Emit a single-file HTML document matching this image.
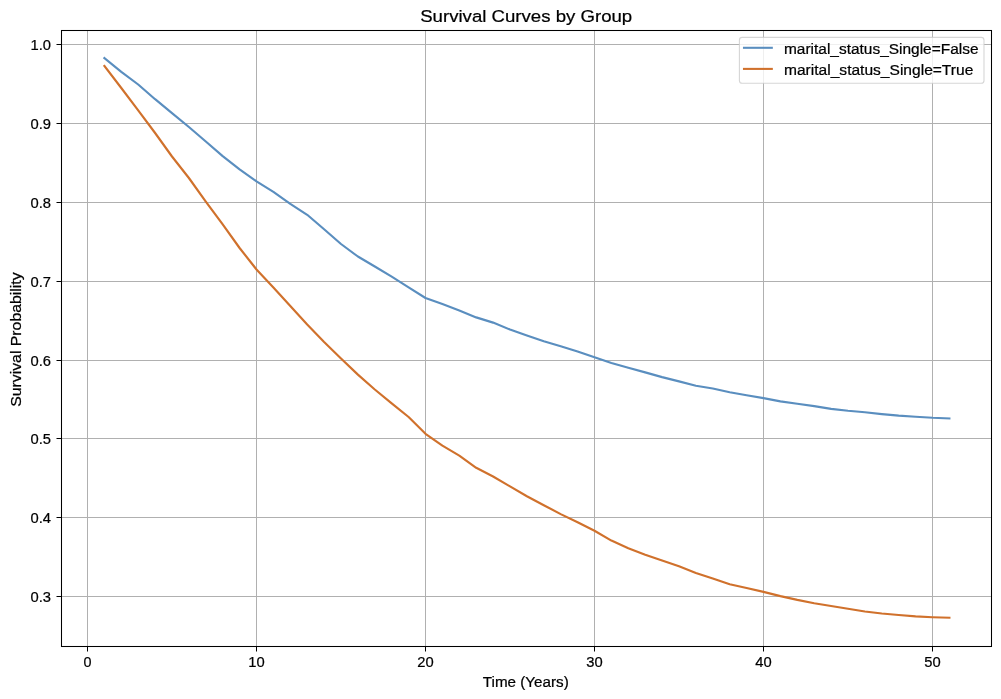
<!DOCTYPE html><html><head><meta charset="utf-8"><style>html,body{margin:0;padding:0;background:#fff;overflow:hidden;width:1001px;height:699px;}svg{display:block;}text{font-family:"Liberation Sans", sans-serif;fill:#000;stroke:#000;stroke-width:0.22px;}svg{will-change:transform;}</style></head><body>
<svg width="1001" height="699" viewBox="0 0 1001 699">
<rect x="0" y="0" width="1001" height="699" fill="#fff"/>
<g stroke="#b0b0b0" stroke-width="1"><line x1="87.50" y1="30.50" x2="87.50" y2="646.50"/><line x1="256.50" y1="30.50" x2="256.50" y2="646.50"/><line x1="425.50" y1="30.50" x2="425.50" y2="646.50"/><line x1="594.50" y1="30.50" x2="594.50" y2="646.50"/><line x1="763.50" y1="30.50" x2="763.50" y2="646.50"/><line x1="932.50" y1="30.50" x2="932.50" y2="646.50"/><line x1="61.50" y1="44.50" x2="991.50" y2="44.50"/><line x1="61.50" y1="123.50" x2="991.50" y2="123.50"/><line x1="61.50" y1="202.50" x2="991.50" y2="202.50"/><line x1="61.50" y1="281.50" x2="991.50" y2="281.50"/><line x1="61.50" y1="360.50" x2="991.50" y2="360.50"/><line x1="61.50" y1="438.50" x2="991.50" y2="438.50"/><line x1="61.50" y1="517.50" x2="991.50" y2="517.50"/><line x1="61.50" y1="596.50" x2="991.50" y2="596.50"/></g>
<g fill="none" stroke-width="2.15" stroke-linecap="square" stroke-linejoin="round">
<path d="M104.40,58.10 L121.30,71.80 L138.20,84.50 L155.10,99.20 L172.00,113.10 L188.90,127.00 L205.80,141.50 L222.70,156.10 L239.60,169.30 L256.50,181.30 L273.40,191.90 L290.30,203.90 L307.20,214.80 L324.10,229.20 L341.00,244.00 L357.90,256.50 L374.80,266.50 L391.70,276.70 L408.60,287.30 L425.50,298.00 L442.40,304.10 L459.30,310.50 L476.20,317.40 L493.10,322.60 L510.00,329.60 L526.90,335.50 L543.80,341.20 L560.70,346.20 L577.60,351.50 L594.50,357.30 L611.40,363.00 L628.30,367.70 L645.20,372.40 L662.10,377.10 L679.00,381.40 L695.90,385.70 L712.80,388.50 L729.70,392.20 L746.60,395.30 L763.50,398.10 L780.40,401.40 L797.30,403.80 L814.20,406.10 L831.10,408.90 L848.00,410.80 L864.90,412.30 L881.80,414.10 L898.70,415.60 L915.60,416.70 L932.50,417.80 L949.40,418.50" stroke="#5a8ebf"/>
<path d="M104.40,66.00 L121.30,88.00 L138.20,110.30 L155.10,133.00 L172.00,156.50 L188.90,178.00 L205.80,201.60 L222.70,224.40 L239.60,248.00 L256.50,269.50 L273.40,287.50 L290.30,306.00 L307.20,324.50 L324.10,342.00 L341.00,358.50 L357.90,374.60 L374.80,389.50 L391.70,403.30 L408.60,417.00 L425.50,433.80 L442.40,445.60 L459.30,455.60 L476.20,467.80 L493.10,476.50 L510.00,486.40 L526.90,496.30 L543.80,505.20 L560.70,514.10 L577.60,522.20 L594.50,530.80 L611.40,540.60 L628.30,548.20 L645.20,554.70 L662.10,560.50 L679.00,566.30 L695.90,572.90 L712.80,578.50 L729.70,584.20 L746.60,588.00 L763.50,591.90 L780.40,596.10 L797.30,599.90 L814.20,603.20 L831.10,606.00 L848.00,608.70 L864.90,611.50 L881.80,613.50 L898.70,615.00 L915.60,616.40 L932.50,617.20 L949.40,617.70" stroke="#d0712c"/>
</g>
<rect x="61.50" y="30.50" width="930.00" height="616.00" fill="none" stroke="#000" stroke-width="1.05"/>
<g stroke="#000" stroke-width="1"><line x1="87.50" y1="646.50" x2="87.50" y2="651.50"/><line x1="256.50" y1="646.50" x2="256.50" y2="651.50"/><line x1="425.50" y1="646.50" x2="425.50" y2="651.50"/><line x1="594.50" y1="646.50" x2="594.50" y2="651.50"/><line x1="763.50" y1="646.50" x2="763.50" y2="651.50"/><line x1="932.50" y1="646.50" x2="932.50" y2="651.50"/><line x1="56.50" y1="44.50" x2="61.50" y2="44.50"/><line x1="56.50" y1="123.50" x2="61.50" y2="123.50"/><line x1="56.50" y1="202.50" x2="61.50" y2="202.50"/><line x1="56.50" y1="281.50" x2="61.50" y2="281.50"/><line x1="56.50" y1="360.50" x2="61.50" y2="360.50"/><line x1="56.50" y1="438.50" x2="61.50" y2="438.50"/><line x1="56.50" y1="517.50" x2="61.50" y2="517.50"/><line x1="56.50" y1="596.50" x2="61.50" y2="596.50"/></g>
<text x="87.50" y="667.2" font-size="14.70" text-anchor="middle" textLength="8.00" lengthAdjust="spacingAndGlyphs">0</text>
<text x="256.50" y="667.2" font-size="14.70" text-anchor="middle" textLength="16.40" lengthAdjust="spacingAndGlyphs">10</text>
<text x="425.50" y="667.2" font-size="14.70" text-anchor="middle" textLength="16.40" lengthAdjust="spacingAndGlyphs">20</text>
<text x="594.50" y="667.2" font-size="14.70" text-anchor="middle" textLength="16.40" lengthAdjust="spacingAndGlyphs">30</text>
<text x="763.50" y="667.2" font-size="14.70" text-anchor="middle" textLength="16.40" lengthAdjust="spacingAndGlyphs">40</text>
<text x="932.50" y="667.2" font-size="14.70" text-anchor="middle" textLength="16.40" lengthAdjust="spacingAndGlyphs">50</text>
<text x="51.0" y="49.50" font-size="14.70" text-anchor="end" textLength="20.5" lengthAdjust="spacingAndGlyphs">1.0</text>
<text x="51.0" y="128.50" font-size="14.70" text-anchor="end" textLength="20.5" lengthAdjust="spacingAndGlyphs">0.9</text>
<text x="51.0" y="207.50" font-size="14.70" text-anchor="end" textLength="20.5" lengthAdjust="spacingAndGlyphs">0.8</text>
<text x="51.0" y="286.50" font-size="14.70" text-anchor="end" textLength="20.5" lengthAdjust="spacingAndGlyphs">0.7</text>
<text x="51.0" y="365.50" font-size="14.70" text-anchor="end" textLength="20.5" lengthAdjust="spacingAndGlyphs">0.6</text>
<text x="51.0" y="443.50" font-size="14.70" text-anchor="end" textLength="20.5" lengthAdjust="spacingAndGlyphs">0.5</text>
<text x="51.0" y="522.50" font-size="14.70" text-anchor="end" textLength="20.5" lengthAdjust="spacingAndGlyphs">0.4</text>
<text x="51.0" y="601.50" font-size="14.70" text-anchor="end" textLength="20.5" lengthAdjust="spacingAndGlyphs">0.3</text>
<text x="526.2" y="22.0" font-size="17.4" text-anchor="middle" textLength="212" lengthAdjust="spacingAndGlyphs">Survival Curves by Group</text>
<text x="525.8" y="686.8" font-size="14.7" text-anchor="middle" textLength="86" lengthAdjust="spacingAndGlyphs">Time (Years)</text>
<text transform="translate(20.6,339.6) rotate(-90)" x="0" y="0" font-size="14.7" text-anchor="middle" textLength="134.5" lengthAdjust="spacingAndGlyphs">Survival Probability</text>
<rect x="739.4" y="37.4" width="244.6" height="45.9" rx="2.8" ry="2.8" fill="#fff" fill-opacity="0.8" stroke="#cccccc" stroke-opacity="0.8" stroke-width="1.11"/>
<line x1="744.0" y1="47.8" x2="771.8" y2="47.8" stroke="#5a8ebf" stroke-width="2.08" stroke-linecap="square"/>
<line x1="744.0" y1="68.9" x2="771.8" y2="68.9" stroke="#d0712c" stroke-width="2.08" stroke-linecap="square"/>
<text x="784.0" y="53.9" font-size="14.7" textLength="194.5" lengthAdjust="spacingAndGlyphs">marital_status_Single=False</text>
<text x="784.0" y="74.8" font-size="14.7" textLength="189.3" lengthAdjust="spacingAndGlyphs">marital_status_Single=True</text>
</svg></body></html>
